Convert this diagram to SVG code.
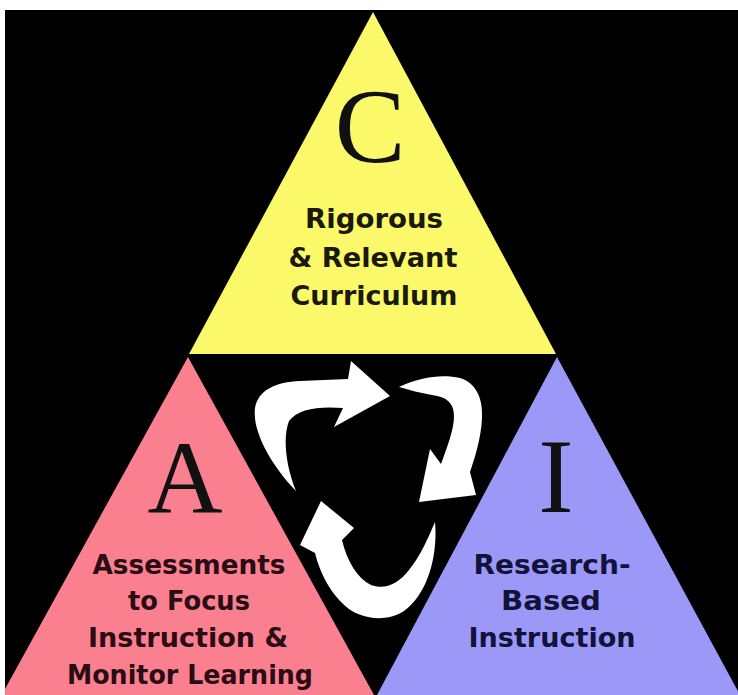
<svg xmlns="http://www.w3.org/2000/svg" width="738" height="695" viewBox="0 0 738 695">
  <style>
    .big { font-family: "Liberation Serif", "Times New Roman", serif; font-weight: normal; fill: #111; text-anchor: middle; }
    .lbl { font-family: "DejaVu Sans", Verdana, sans-serif; font-weight: bold; font-size: 26px; text-anchor: middle; }
    .ylbl { fill: #1a1a0a; }
    .plbl { fill: #2a0c14; }
    .vlbl { fill: #12123a; }
    .arrow { fill: #ffffff; }
  </style>
  <rect x="0" y="0" width="738" height="695" fill="#ffffff"/>
  <rect x="5" y="10" width="733" height="685" fill="#000000"/>

  <g id="node-C">
    <polygon points="373,12 189,354 556,354" fill="#fbf86a"/>
    <text class="big" x="370" y="162" font-size="106">C</text>
    <text class="lbl ylbl" x="374" y="228" textLength="138" lengthAdjust="spacingAndGlyphs">Rigorous</text>
    <text class="lbl ylbl" x="373" y="267" textLength="169" lengthAdjust="spacingAndGlyphs">&amp; Relevant</text>
    <text class="lbl ylbl" x="374" y="305" textLength="167" lengthAdjust="spacingAndGlyphs">Curriculum</text>
  </g>

  <g id="node-A">
    <polygon points="188,357 5,689 5,695 374,695" fill="#fa8090"/>
    <text class="big" x="185" y="513" font-size="104">A</text>
    <text class="lbl plbl" x="189" y="574" textLength="193" lengthAdjust="spacingAndGlyphs">Assessments</text>
    <text class="lbl plbl" x="189" y="610" textLength="122" lengthAdjust="spacingAndGlyphs">to Focus</text>
    <text class="lbl plbl" x="188" y="647" textLength="200" lengthAdjust="spacingAndGlyphs">Instruction &amp;</text>
    <text class="lbl plbl" x="190" y="684" textLength="246" lengthAdjust="spacingAndGlyphs">Monitor Learning</text>
  </g>

  <g id="node-I">
    <polygon points="557,357 377,695 740,695" fill="#9b98f8"/>
    <text class="big" x="556" y="512" font-size="106">I</text>
    <text class="lbl vlbl" x="552" y="574" textLength="157" lengthAdjust="spacingAndGlyphs">Research-</text>
    <text class="lbl vlbl" x="551" y="610" textLength="100" lengthAdjust="spacingAndGlyphs">Based</text>
    <text class="lbl vlbl" x="552" y="647" textLength="167" lengthAdjust="spacingAndGlyphs">Instruction</text>
  </g>

  <g id="connectors">
    <path class="arrow" d="M296,491 C272,466 252,432 255,408 C258,390 276,382 300,381 L348,379 L351,361 L390,396 L334,427 L343,408 C318,406 298,409 289,421 C283,436 285,464 296,491 Z"/>
    <path class="arrow" d="M399,387 C420,377 442,374 460,378 C476,383 483,398 482,418 C481,440 474,460 470,472 L476,495 L419,502 L430,449 L441,464 C447,447 454,430 454,416 C454,403 447,397 432,395 C420,393 410,390 399,387 Z"/>
    <path class="arrow" d="M435,522 C438,555 428,594 404,611 C388,621 368,620 352,611 C334,599 321,577 315,553 L300,545 L321,501 L354,528 L342,540 C347,561 357,578 371,585 C385,590 398,584 409,570 C421,555 428,538 435,522 Z"/>
  </g>
</svg>
